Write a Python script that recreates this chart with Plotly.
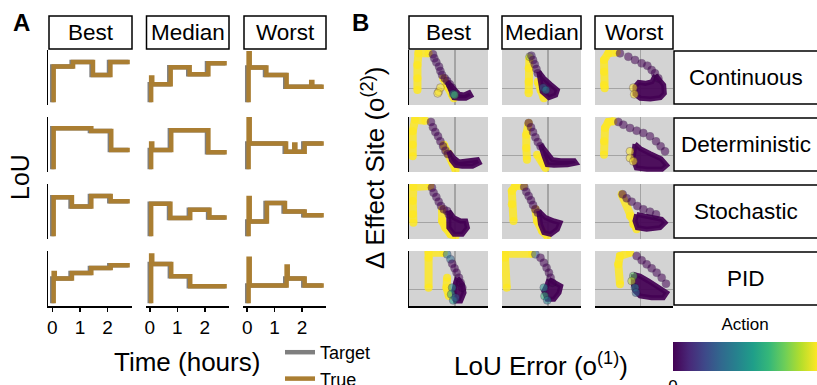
import plotly.graph_objects as go

# Layout positions below are given in window pixels; the page body margin is removed after plotting.
PAGE_MARGIN = 0
WIN_W, WIN_H = 817, 385
W, H = WIN_W - PAGE_MARGIN, WIN_H - PAGE_MARGIN
FONT = "Liberation Sans, Arial, sans-serif"

COLUMNS = ["Best", "Median", "Worst"]
REGIMES = ["Continuous", "Deterministic", "Stochastic", "PID"]
TIME_TICKS = [0, 1, 2]
TIME_END = 2.8
LOU_START = 5
TRUE_LAG = 0.05       # response delay of the true LoU behind the target (hours)
SPIKE_WIDTH = 0.04    # duration of an overshoot (hours)

# ---------------- Panel A : LoU target steps (rows follow REGIMES) ----------------
best_step_times = [[0, 0.70, 1.42, 2.05], [0, 1.36, 2.08], [0, 0.66, 1.36, 2.06], [0, 0.66, 1.36, 2.06]]
best_step_levels = [[70, 78, 54.5, 78], [79.5, 74.5, 40], [76, 59, 78, 68.5], [50, 60, 69, 74]]
best_overshoots = [[], [], [], [(0, 60)]]

median_step_times = [[0, 0.71, 1.40, 2.08], [0, 0.73, 2.08], [0, 0.70, 1.42, 2.12], [0, 0.73, 1.42]]
median_step_levels = [[37.5, 68.5, 56, 76], [40, 76, 36], [64, 38, 53, 39], [76.5, 54, 36]]
median_overshoots = [[(0, 50)], [(0, 52)], [], [(0, 92)]]

worst_step_times = [[0, 0.65, 1.39], [0, 1.37, 2.05], [0, 0.67, 1.33, 2.05], [0, 1.39, 2.05]]
worst_step_levels = [[68, 54.5, 33], [52, 37, 52], [32, 65.5, 50, 43], [37.5, 50, 37.5]]
worst_overshoots = [[(0, 94), (2.29, 42)], [(0, 97.5), (1.67, 50)], [(0, 74.5)], [(0, 86), (1.39, 72)]]

# ---------------- Panel B : (LoU error, delta effect site[, action]) ----------------
b_best_continuous_yellow = [[(-78, 105), (-108, 105), (-111, 70), (-111, 30), (-111, -5)],
                            [(-35, 30), (-23, 5), (-8, -20), (-3, -30)]]
b_best_continuous_circles = [(-48, -10, 1), (-43, 2, 1), (-51, -15, 1),
                             (-65, 102, 0.02), (-61, 90, 0.02), (-55, 78, 0.02), (-47, 65, 0.02),
                             (-43, 52, 0.02), (-38, 40, 0.02), (-30, 30, 0), (-23, 22, 0), (-15, 12, 0),
                             (-8, 2, 0), (-5, -17, 0.45), (-1, -20, 0.7)]
b_best_continuous_blob = [(-23, 20), (-3, 0), (12, -18), (27, -20), (42, -13), (47, -22), (32, -30),
                          (12, -30), (-3, -28)]

b_median_continuous_yellow = [[(-55, 90), (-57, 60), (-57, 20), (-57, -15)],
                              [(-30, 20), (-22, -5), (-12, -30)]]
b_median_continuous_circles = [(-54, 95, 0.85), (-49, 98, 0.05), (-44, 85, 0.02), (-39, 72, 0.02),
                               (-34, 58, 0), (-30, 45, 0), (-14, 2, 0.3), (-6, -5, 0.45)]
b_median_continuous_blob = [(-27, 50), (-12, 30), (8, 12), (28, -5), (23, -20), (3, -28), (-17, -10),
                            (-22, 20)]

b_worst_continuous_yellow = [[(-71, 108), (-96, 105), (-109, 85), (-109, 50), (-109, 10), (-107, 0)]]
b_worst_continuous_circles = [(-61, 105, 0), (-36, 95, 0), (-16, 85, 0), (4, 75, 0), (21, 68, 0),
                              (34, 55, 0), (44, 45, 0), (54, 30, 0), (-21, 2, 1), (-18, -18, 1)]
b_worst_continuous_blob = [(45, 40), (70, 10), (72, -15), (60, -28), (30, -32), (0, -30), (-16, -18),
                           (-16, 5), (-5, 18), (15, 15), (35, 20)]

b_best_deterministic_yellow = [[(-88, 104), (-118, 107), (-125, 72), (-125, 32), (-125, -3)],
                               [(-33, 32), (-18, 5), (-8, -20), (2, -43)]]
b_best_deterministic_circles = [(-71, 100, 0), (-65, 84, 0), (-58, 70, 0), (-50, 57, 0), (-43, 42, 0),
                                (-35, 27, 0), (-28, 14, 0), (-21, 4, 0)]
b_best_deterministic_blob = [(-18, 12), (-3, -8), (12, -20), (37, -18), (67, -13), (72, -23), (52, -33),
                             (22, -33), (2, -30), (-10, -15)]

b_median_deterministic_yellow = [[(-57, 97), (-64, 62), (-64, 22), (-62, -13)],
                                 [(-32, 2), (-17, -18), (-7, -38)]]
b_median_deterministic_circles = [(-57, 97, 0), (-50, 84, 0), (-44, 70, 0), (-37, 54, 0), (-30, 40, 0),
                                  (-22, 27, 0)]
b_median_deterministic_blob = [(-22, 32), (-2, 7), (13, -13), (38, -16), (78, -16), (83, -23), (58, -28),
                               (18, -30), (-2, -28), (-12, 0)]

b_worst_deterministic_yellow = [[(-81, 102), (-96, 100), (-106, 82), (-109, 42), (-109, 2)]]
b_worst_deterministic_circles = [(-66, 100, 0), (-51, 92, 0), (-31, 82, 0), (-11, 74, 0), (9, 67, 0),
                                 (29, 57, 0), (47, 42, 0), (61, 27, 0), (74, 12, 0),
                                 (-31, 12, 1), (-31, -8, 1), (-21, -18, 1)]
b_worst_deterministic_blob = [(-16, 34), (0, 20), (30, 5), (62, -10), (79, -30), (65, -42), (20, -42),
                              (-12, -38), (-22, -10)]

b_best_stochastic_yellow = [[(-73, 109), (-123, 106), (-125, 64), (-125, 24), (-123, -1)],
                            [(-38, 39), (-38, 4), (-28, -16), (-13, -36), (2, -41)]]
b_best_stochastic_circles = [(-68, 104, 0), (-63, 89, 0), (-55, 76, 0), (-48, 62, 0), (-41, 49, 0),
                             (-33, 39, 0), (-23, 34, 0), (-18, 24, 0)]
b_best_stochastic_blob = [(-18, 34), (-3, 14), (17, 4), (32, 4), (37, -16), (22, -36), (-3, -36),
                          (-18, -16)]

b_median_stochastic_yellow = [[(-72, 109), (-97, 109), (-107, 94), (-107, 54), (-102, 4)],
                              [(-37, 39), (-32, 4), (-17, -26), (-2, -41)]]
b_median_stochastic_circles = [(-70, 106, 0.05), (-64, 92, 0), (-57, 79, 0), (-50, 66, 0), (-44, 52, 0),
                               (-37, 39, 0), (-30, 29, 0)]
b_median_stochastic_blob = [(-27, 34), (-7, 14), (18, 4), (36, -1), (28, -21), (8, -36), (-12, -31),
                            (-22, -6)]

b_worst_stochastic_yellow = [[(-56, 84), (-31, 19), (-21, -6), (-11, -21)]]
b_worst_stochastic_circles = [(-53, 84, 0), (-41, 72, 0), (-26, 62, 0), (-9, 49, 0), (9, 39, 0),
                              (29, 32, 0), (47, 24, 0)]
b_worst_stochastic_blob = [(-11, 24), (9, 19), (39, 14), (64, 9), (74, -1), (59, -16), (19, -21),
                           (-9, -16), (-16, 4)]

b_best_pid_yellow = [[(-33, 110), (-78, 110), (-78, 95), (-78, 5)],
                     [(-23, 35), (-25, 5), (-18, -20)]]
b_best_pid_circles = [(-23, 105, 0.4), (-13, 90, 0.35), (-8, 77, 0), (-1, 63, 0), (5, 50, 0), (12, 35, 0),
                      (17, 20, 0), (22, 5, 0), (-8, 5, 0.5), (-11, -15, 0.6), (-5, -33, 0.55), (2, -25, 0.3)]
b_best_pid_blob = [(7, 35), (22, 15), (27, -10), (17, -35), (2, -35), (-3, -5), (2, 20)]

b_median_pid_yellow = [[(-47, 107), (-127, 107), (-127, 95), (-122, 5)]]
b_median_pid_circles = [(-37, 105, 0.3), (-22, 95, 0), (-12, 80, 0), (-4, 65, 0), (3, 50, 0), (8, 35, 0),
                        (13, 20, 0), (-12, 5, 0.5), (-10, -20, 0.65), (-2, -33, 0.45)]
b_median_pid_blob = [(3, 30), (23, 20), (38, 10), (33, -10), (18, -30), (-2, -30), (-12, -5), (-2, 15)]

b_worst_pid_yellow = [[(-31, 110), (-61, 100), (-66, 75), (-61, 15)]]
b_worst_pid_circles = [(-11, 100, 0), (4, 87, 0), (19, 75, 0), (34, 63, 0), (49, 50, 0), (64, 35, 0),
                       (77, 17, 0), (-21, 40, 0.75), (-26, 25, 0.9), (-16, 5, 0.45), (-13, -10, 0.35)]
b_worst_pid_blob = [(-21, 45), (-1, 40), (24, 25), (54, 5), (79, -10), (69, -25), (34, -25), (-1, -20),
                    (-16, -5), (-21, 15)]

# ---------------- styling ----------------
GOLD = "#AA7E32"
GREY = "#7F7F7F"
PANEL_BG = "#D3D3D3"
GRID = "#A4A4A4"

A_COLS = [(48, 132), (145.5, 229), (243, 326)]
ROWS = [(50, 105), (117, 172), (184, 239), (251, 306)]
B_COLS = [(409, 488), (502, 581), (595, 673)]

A_STEPS = {"Best": (best_step_times, best_step_levels, best_overshoots),
           "Median": (median_step_times, median_step_levels, median_overshoots),
           "Worst": (worst_step_times, worst_step_levels, worst_overshoots)}

B_DATA = {
    ("Best", "Continuous"): (b_best_continuous_yellow, b_best_continuous_circles, b_best_continuous_blob),
    ("Median", "Continuous"): (b_median_continuous_yellow, b_median_continuous_circles, b_median_continuous_blob),
    ("Worst", "Continuous"): (b_worst_continuous_yellow, b_worst_continuous_circles, b_worst_continuous_blob),
    ("Best", "Deterministic"): (b_best_deterministic_yellow, b_best_deterministic_circles, b_best_deterministic_blob),
    ("Median", "Deterministic"): (b_median_deterministic_yellow, b_median_deterministic_circles, b_median_deterministic_blob),
    ("Worst", "Deterministic"): (b_worst_deterministic_yellow, b_worst_deterministic_circles, b_worst_deterministic_blob),
    ("Best", "Stochastic"): (b_best_stochastic_yellow, b_best_stochastic_circles, b_best_stochastic_blob),
    ("Median", "Stochastic"): (b_median_stochastic_yellow, b_median_stochastic_circles, b_median_stochastic_blob),
    ("Worst", "Stochastic"): (b_worst_stochastic_yellow, b_worst_stochastic_circles, b_worst_stochastic_blob),
    ("Best", "PID"): (b_best_pid_yellow, b_best_pid_circles, b_best_pid_blob),
    ("Median", "PID"): (b_median_pid_yellow, b_median_pid_circles, b_median_pid_blob),
    ("Worst", "PID"): (b_worst_pid_yellow, b_worst_pid_circles, b_worst_pid_blob),
}


def fx(p):
    return (p - PAGE_MARGIN) / W


def fy(p):
    return 1 - (p - PAGE_MARGIN) / H


def target_path(times, levels):
    xs, ys = [times[0]], [LOU_START]
    for t, lv in zip(times, levels):
        xs.append(t)
        ys.append(lv)
    xs.append(TIME_END - TRUE_LAG)
    ys.append(levels[-1])
    return xs, ys


def level_at(times, levels, t):
    lv = levels[0]
    for ti, li in zip(times, levels):
        if ti <= t:
            lv = li
    return lv


def true_path(times, levels, overs):
    pts = [(times[0] + TRUE_LAG, 0, LOU_START)]
    for t, lv in zip(times, levels):
        pts.append((t + TRUE_LAG, 1, lv))
    for t, peak in overs:
        pts.append((t + TRUE_LAG, 2, peak))
        pts.append((t + TRUE_LAG + SPIKE_WIDTH, 3, level_at(times, levels, t)))
    pts.sort(key=lambda p: (p[0], p[1]))
    xs = [p[0] for p in pts] + [TIME_END]
    ys = [p[2] for p in pts] + [levels[-1]]
    return xs, ys


fig = go.Figure()
layout = {}
shapes = []
annotations = []


def axis_keys(n):
    return ("xaxis" if n == 1 else f"xaxis{n}", "yaxis" if n == 1 else f"yaxis{n}",
            "x" if n == 1 else f"x{n}", "y" if n == 1 else f"y{n}")


# ---- Panel A ----
for r, regime in enumerate(REGIMES):
    for c, col in enumerate(COLUMNS):
        n = 1 + r * 3 + c
        xk, yk, xr, yr = axis_keys(n)
        times, levels, overs = (A_STEPS[col][0][r], A_STEPS[col][1][r], A_STEPS[col][2][r])
        tx, ty = target_path(times, levels)
        ux, uy = true_path(times, levels, overs)
        first = (n == 1)
        fig.add_trace(go.Scatter(x=tx, y=ty, mode="lines", line=dict(color=GREY, width=4.5, shape="hv"),
                                 name="Target", showlegend=first, xaxis=xr, yaxis=yr))
        fig.add_trace(go.Scatter(x=ux, y=uy, mode="lines", line=dict(color=GOLD, width=4.5, shape="hv"),
                                 name="True", showlegend=first, xaxis=xr, yaxis=yr))
        bottom = (r == len(REGIMES) - 1)
        layout[xk] = dict(domain=[fx(A_COLS[c][0]), fx(A_COLS[c][1])], anchor=yr,
                          range=[-0.155, 2.88], showgrid=False, zeroline=False,
                          showline=bottom, linecolor="black", linewidth=1.5,
                          tickvals=TIME_TICKS if bottom else [], ticks="outside" if bottom else "",
                          ticklen=4, tickwidth=1.5, tickcolor="black",
                          showticklabels=bottom, tickfont=dict(size=19, color="black", family=FONT))
        layout[yk] = dict(domain=[fy(ROWS[r][1]), fy(ROWS[r][0])], anchor=xr, range=[0, 100],
                          showgrid=False, zeroline=False, showline=(c == 0), linecolor="black",
                          linewidth=1.5, showticklabels=False, ticks="")

# ---- Panel B ----
for r, regime in enumerate(REGIMES):
    for c, col in enumerate(COLUMNS):
        n = 13 + r * 3 + c
        xk, yk, xr, yr = axis_keys(n)
        yellow, circles, blob = B_DATA[(col, regime)]
        for path in yellow:
            fig.add_trace(go.Scatter(
                x=[p[0] for p in path], y=[p[1] for p in path], mode="lines+markers",
                line=dict(color="rgba(253,231,37,0.85)", width=8),
                marker=dict(size=8, color=[1] * len(path), coloraxis="coloraxis", opacity=0.85),
                showlegend=False, xaxis=xr, yaxis=yr, hoverinfo="skip"))
        bx = [p[0] for p in blob] + [blob[0][0]]
        by = [p[1] for p in blob] + [blob[0][1]]
        fig.add_trace(go.Scatter(x=bx, y=by, mode="lines", fill="toself",
                                 fillcolor="rgba(68,1,84,0.93)",
                                 line=dict(color="rgba(68,1,84,0.93)", width=5),
                                 showlegend=False, xaxis=xr, yaxis=yr, hoverinfo="skip"))
        fig.add_trace(go.Scatter(
            x=[p[0] for p in circles], y=[p[1] for p in circles], mode="markers",
            marker=dict(size=8, color=[p[2] for p in circles], coloraxis="coloraxis", opacity=0.55,
                        line=dict(width=0.8, color="rgba(40,10,60,0.6)")),
            showlegend=False, xaxis=xr, yaxis=yr))
        bottom = (r == len(REGIMES) - 1)
        layout[xk] = dict(domain=[fx(B_COLS[c][0]), fx(B_COLS[c][1])], anchor=yr, range=[-136, 98],
                          tickvals=[0], showticklabels=False, ticks="", showgrid=True,
                          gridcolor=GRID, gridwidth=1.5, zeroline=False,
                          showline=bottom, linecolor="black", linewidth=1.5)
        layout[yk] = dict(domain=[fy(ROWS[r][1]), fy(ROWS[r][0])], anchor=xr, range=[-50, 115],
                          tickvals=[0], showticklabels=False, ticks="", showgrid=True,
                          gridcolor=GRID, gridwidth=1.5, zeroline=False,
                          showline=(c == 0), linecolor="black", linewidth=1.5)
        shapes.append(dict(type="rect", xref=f"{xr} domain", yref=f"{yr} domain", x0=0, x1=1, y0=0, y1=1,
                           fillcolor=PANEL_BG, line=dict(width=0), layer="below"))

# ---- strips ----
STRIP_TOP, STRIP_BOTTOM = 16, 49


def strip(x0, x1, y0, y1, text, size, cx=None):
    shapes.append(dict(type="rect", xref="paper", yref="paper", x0=fx(x0), x1=fx(x1), y0=fy(y1), y1=fy(y0),
                       line=dict(color="black", width=1.5), fillcolor="white"))
    centre = cx if cx is not None else (x0 + x1) / 2
    annotations.append(dict(x=fx(centre), y=fy((y0 + y1) / 2), xref="paper", yref="paper",
                            text=text, showarrow=False, font=dict(size=size, color="black", family=FONT),
                            xanchor="center", yanchor="middle"))


for c, col in enumerate(COLUMNS):
    strip(A_COLS[c][0] + 1, A_COLS[c][1], STRIP_TOP, STRIP_BOTTOM, col, 22.5)
    strip(B_COLS[c][0], B_COLS[c][1], STRIP_TOP, STRIP_BOTTOM, col, 22.5)
for r, regime in enumerate(REGIMES):
    strip(674, 840, ROWS[r][0] + 1, ROWS[r][1] - 1, regime, 22.5, cx=746)


def text(x, y, s, size, angle=0, bold=False):
    annotations.append(dict(x=fx(x), y=fy(y), xref="paper", yref="paper", text=f"<b>{s}</b>" if bold else s,
                            showarrow=False, textangle=angle, xanchor="center", yanchor="middle",
                            font=dict(size=size, color="black", family=FONT)))


text(21, 22, "A", 24, bold=True)
text(360, 22, "B", 24, bold=True)
text(20, 177, "LoU", 25, angle=-90)
text(187, 362, "Time (hours)", 26)
text(374, 168, "Δ Effect Site (o<sup>(2)</sup>)", 26, angle=-90)
text(541, 364, "LoU Error (o<sup>(1)</sup>)", 26)

layout.update(
    width=W, height=H, autosize=False,
    margin=dict(l=0, r=0, t=0, b=0, autoexpand=False),
    paper_bgcolor="white", plot_bgcolor="white",
    font=dict(family=FONT, color="black"),
    shapes=shapes, annotations=annotations,
    showlegend=True,
    legend=dict(x=fx(280), y=fy(334), xanchor="left", yanchor="top", font=dict(size=18, family=FONT),
                bgcolor="rgba(0,0,0,0)", itemwidth=30, tracegroupgap=0),
    coloraxis=dict(colorscale="Viridis", cmin=0, cmax=1,
                   colorbar=dict(orientation="h", x=fx(673), xanchor="left", y=fy(323), yanchor="top",
                                 len=144, lenmode="pixels", thickness=29, xpad=0, ypad=0,
                                 outlinewidth=0, ticks="", tickvals=[0, 1], ticktext=["0", "1"],
                                 tickfont=dict(size=17, family=FONT),
                                 title=dict(text="Action", side="top", font=dict(size=17, family=FONT)))),
)
fig.update_layout(layout)
fig.write_html("out.html", config={"displayModeBar": False, "staticPlot": True},
               post_script="document.body.style.margin='0';document.body.style.overflow='hidden';")
